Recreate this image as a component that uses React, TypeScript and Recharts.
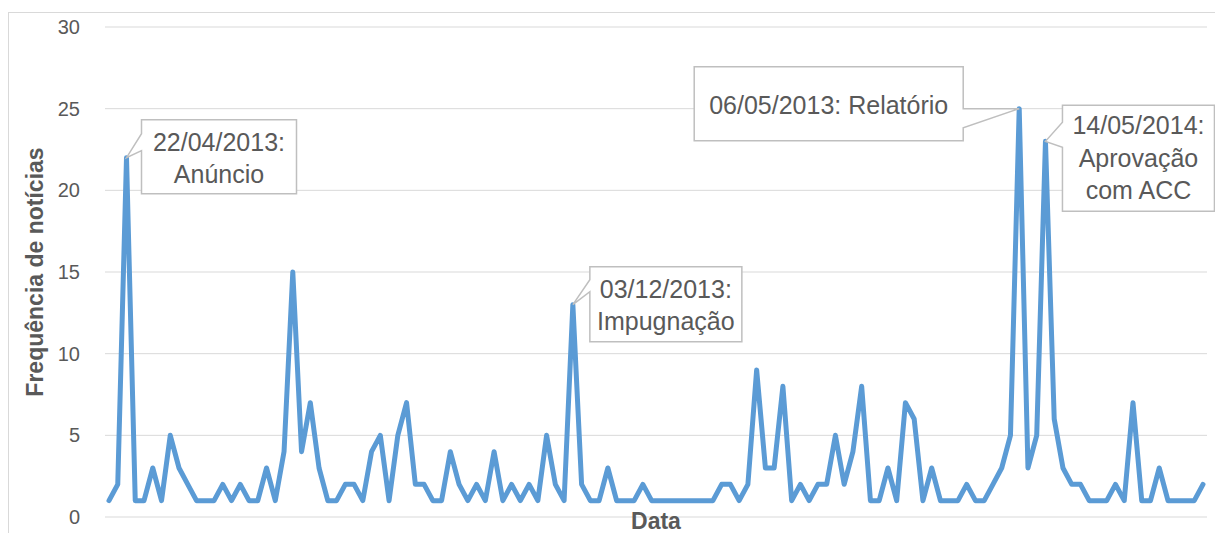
import { LineChart, Line, XAxis, YAxis, CartesianGrid, LabelList } from "recharts";

// weekly news count
const frequency = [
  1, 2, 22, 1, 1, 3, 1, 5, 3, 2,
  1, 1, 1, 2, 1, 2, 1, 1, 3, 1,
  4, 15, 4, 7, 3, 1, 1, 2, 2, 1,
  4, 5, 1, 5, 7, 2, 2, 1, 1, 4,
  2, 1, 2, 1, 4, 1, 2, 1, 2, 1,
  5, 2, 1, 13, 2, 1, 1, 3, 1, 1,
  1, 2, 1, 1, 1, 1, 1, 1, 1, 1,
  2, 2, 1, 2, 9, 3, 3, 8, 1, 2,
  1, 2, 2, 5, 2, 4, 8, 1, 1, 3,
  1, 7, 6, 1, 3, 1, 1, 1, 2, 1,
  1, 2, 3, 5, 25, 3, 5, 23, 6, 3,
  2, 2, 1, 1, 1, 2, 1, 7, 1, 1,
  3, 1, 1, 1, 1, 2,
];
const yTicks = [0, 5, 10, 15, 20, 25, 30];
const calloutPoints = [2, 53, 104, 107];
const calloutLabels = [
  ["22/04/2013:", "Anúncio"],
  ["03/12/2013:", "Impugnação"],
  ["06/05/2013: Relatório"],
  ["14/05/2014:", "Aprovação", "com ACC"],
];

// callout shapes, offsets from the point: box [left, top, right, bottom]
const calloutBoxes = [
  { box: [15, -38, 170, 36], side: "left", notch: [-24, -7], baselines: [-7, 25] },
  { box: [17, -38, 169, 37], side: "left", notch: [-25, -13], baselines: [-7, 25] },
  { box: [-325, -42, -56, 32], side: "right", notch: [0, 19], baselines: [5] },
  { box: [17, -36, 169, 70], side: "left", notch: [-19, 6], baselines: [-7, 25.5, 58] },
];

const data = frequency.map((v, i) => ({ i, v }));

const FONT = "'Liberation Sans', Arial, sans-serif";
const TEXT = "#595959";

function calloutPath(b: number[], side: string, n: number[]) {
  const [l, t, r, btm] = b;
  if (side === "left") return `M${l},${t} H${r} V${btm} H${l} V${n[1]} L0,0 L${l},${n[0]} Z`;
  return `M${l},${t} H${r} V${n[0]} L0,0 L${r},${n[1]} V${btm} H${l} Z`;
}

const Callout = (props: any) => {
  const px = props.x ?? props.viewBox?.x;
  const py = props.y ?? props.viewBox?.y;
  const k = calloutPoints.indexOf(props.index);
  if (k < 0 || px == null || py == null) return null;
  const c = calloutBoxes[k];
  const cx = (c.box[0] + c.box[2]) / 2;
  return (
    <g transform={`translate(${px},${py})`}>
      <path d={calloutPath(c.box, c.side, c.notch)} fill="#fff" stroke="#bfbfbf" strokeWidth={1.5} />
      {calloutLabels[k].map((line, j) => (
        <text key={j} x={cx} y={c.baselines[j]} textAnchor="middle" fontSize={25} fill={TEXT} fontFamily={FONT}>
          {line}
        </text>
      ))}
    </g>
  );
};

const YTitle = (props: any) => {
  const vb = props.viewBox || {};
  const cy = vb.y != null ? vb.y + vb.height / 2 : 272;
  return (
    <text
      x={43}
      y={cy}
      transform={`rotate(-90, 43, ${cy})`}
      textAnchor="middle"
      fontSize={23}
      fontWeight="bold"
      fill={TEXT}
      fontFamily={FONT}
    >
      Frequência de notícias
    </text>
  );
};

export default function App() {
  return (
    <div style={{ position: "relative", width: 1215, height: 533, overflow: "hidden", background: "#fff", fontFamily: FONT }}>
      <style>{"body{margin:0;overflow:hidden}"}</style>
      <div style={{ position: "absolute", left: 8, top: 12, width: 1300, height: 700, border: "1px solid #d9d9d9" }} />
      <div style={{ position: "absolute", left: 0, top: 0 }}>
        <LineChart width={1215} height={533} data={data} margin={{ top: 27, right: 8, bottom: 0, left: 0 }}>
          <CartesianGrid vertical={false} stroke="#d9d9d9" strokeWidth={1} />
          <XAxis
            dataKey="i"
            type="category"
            height={16}
            tick={false}
            tickLine={false}
            axisLine={false}
            padding={{ left: 4, right: 4 }}
            label={{ value: "Data", position: "insideBottom", offset: 4, fill: TEXT, fontSize: 23, fontWeight: "bold", fontFamily: FONT }}
          />
          <YAxis
            width={105}
            domain={[0, 30]}
            ticks={yTicks}
            interval={0}
            tickLine={false}
            axisLine={false}
            tickSize={0}
            tickMargin={25}
            tick={{ fill: TEXT, fontSize: 20, fontFamily: FONT }}
            label={<YTitle />}
          />
          <Line
            type="linear"
            dataKey="v"
            stroke="#5b9bd5"
            strokeWidth={5}
            strokeLinejoin="round"
            strokeLinecap="round"
            dot={false}
            activeDot={false}
            isAnimationActive={false}
          >
            <LabelList dataKey="v" content={<Callout />} />
          </Line>
        </LineChart>
      </div>
    </div>
  );
}
